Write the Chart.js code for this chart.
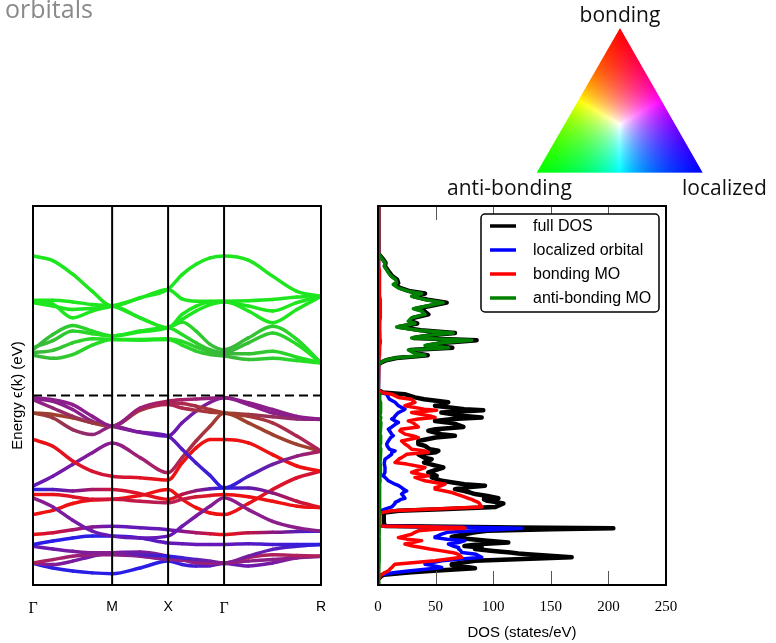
<!DOCTYPE html>
<html>
<head>
<meta charset="utf-8">
<script src="https://cdn.jsdelivr.net/npm/chart.js@4.4.0/dist/chart.umd.min.js"></script>
<style>
  html, body { margin: 0; padding: 0; background: #fff; }
  #page { position: relative; width: 776px; height: 643px; overflow: hidden; }
  #page canvas { position: absolute; left: 0; top: 0; }
  .lbl { position: absolute; font-family: "Open Sans", sans-serif; font-size: 21px; line-height: 1; color: #111; white-space: nowrap; }
</style>
</head>
<body>
<div id="page">
  <canvas id="triangle" width="776" height="200"></canvas>
  <div class="lbl" style="left:5px; top:-4px; font-size:25px; color:#8a8a8a;">orbitals</div>
  <div class="lbl" style="left:620px; top:4px; transform:translateX(-50%);">bonding</div>
  <div class="lbl" style="left:447px; top:177px;">anti-bonding</div>
  <div class="lbl" style="left:682px; top:177px;">localized</div>
  <canvas id="bands" width="776" height="643"></canvas>
  <canvas id="dos" width="776" height="643"></canvas>
</div>
<script>
// ---------- k-path: Γ - M - X - Γ - R ----------
const kNodes = [0, 0.707, 1.207, 1.707, 2.573];
const kLabels = ['Γ', 'M', 'X', 'Γ', 'R'];
const kPath = [0, 0.177, 0.354, 0.530, 0.707, 0.957, 1.207, 1.332, 1.457, 1.582, 1.707, 1.924, 2.140, 2.357, 2.573];

// conduction bands (eV, Fermi level at 0)
const conductionBands = [
  [3.68, 3.56, 3.20, 2.75, 2.36, 2.58, 2.81, 3.19, 3.46, 3.63, 3.68, 3.57, 3.15, 2.75, 2.62],
  [2.49, 2.41, 2.05, 2.23, 2.36, 2.57, 2.80, 2.55, 2.49, 2.49, 2.49, 2.50, 2.53, 2.60, 2.62],
  [2.45, 2.36, 2.27, 2.30, 2.36, 2.05, 1.79, 2.14, 2.36, 2.47, 2.49, 2.23, 1.92, 2.27, 2.62],
  [1.21, 1.61, 1.85, 1.70, 1.57, 1.68, 1.79, 2.01, 2.23, 2.40, 2.47, 2.36, 2.23, 2.45, 2.62],
  [1.26, 1.45, 1.70, 1.63, 1.57, 1.70, 1.79, 1.61, 1.39, 1.21, 1.13, 1.39, 1.65, 1.35, 0.86],
  [1.13, 1.19, 1.39, 1.50, 1.48, 1.48, 1.50, 1.43, 1.28, 1.15, 1.10, 1.10, 1.17, 1.01, 0.86],
  [1.06, 0.98, 1.08, 1.33, 1.48, 1.46, 1.48, 1.33, 1.17, 1.08, 1.04, 0.95, 0.98, 0.92, 0.86],
  [2.51, 2.51, 2.47, 2.40, 2.36, 2.05, 1.79, 1.94, 1.70, 1.35, 1.21, 1.52, 1.83, 1.48, 0.86]
];

// valence bands
const valenceBands = [
  [-0.06, -0.11, -0.24, -0.55, -0.81, -0.33, -0.15, -0.11, -0.09, -0.07, -0.06, -0.19, -0.37, -0.55, -0.63],
  [-0.11, -0.33, -0.55, -0.72, -0.81, -0.37, -0.19, -0.21, -0.28, -0.37, -0.46, -0.55, -0.72, -1.07, -1.47],
  [-0.46, -0.59, -0.90, -1.03, -0.81, -0.97, -1.07, -1.42, -1.78, -2.11, -2.44, -2.13, -1.82, -1.60, -1.47],
  [-0.46, -0.50, -0.59, -0.72, -0.81, -0.39, -0.24, -0.33, -0.39, -0.44, -0.46, -0.50, -0.56, -0.62, -0.63],
  [-0.09, -0.15, -0.37, -0.68, -0.81, -0.97, -1.07, -0.72, -0.41, -0.18, -0.06, -0.24, -0.46, -0.59, -0.63],
  [-1.16, -1.34, -1.73, -2.00, -2.13, -2.17, -2.23, -1.78, -1.38, -1.16, -1.16, -1.25, -1.56, -1.86, -2.00],
  [-2.39, -2.13, -1.82, -1.51, -1.25, -1.64, -2.04, -1.64, -1.20, -0.81, -0.46, -0.72, -1.03, -1.29, -1.47],
  [-2.48, -2.48, -2.52, -2.48, -2.48, -2.59, -2.74, -2.61, -2.51, -2.46, -2.44, -2.44, -2.57, -2.79, -2.96],
  [-2.61, -2.61, -2.67, -2.74, -2.74, -2.79, -2.83, -2.74, -2.67, -2.64, -2.61, -2.67, -2.79, -2.92, -2.96],
  [-2.70, -2.94, -3.29, -3.58, -3.71, -3.76, -3.71, -3.45, -3.18, -2.92, -2.70, -3.01, -3.32, -3.49, -3.58],
  [-3.14, -3.03, -2.85, -2.76, -2.74, -2.64, -2.48, -2.74, -2.96, -3.10, -3.14, -2.85, -2.48, -2.17, -2.00],
  [-3.67, -3.62, -3.54, -3.47, -3.45, -3.49, -3.54, -3.58, -3.62, -3.65, -3.67, -3.62, -3.61, -3.59, -3.58],
  [-3.93, -3.84, -3.76, -3.71, -3.71, -3.76, -3.89, -3.91, -3.93, -3.93, -3.93, -3.91, -3.93, -3.93, -3.93],
  [-3.98, -4.05, -4.11, -4.15, -4.15, -4.20, -4.24, -4.28, -4.33, -4.37, -4.42, -4.24, -4.06, -3.98, -3.93],
  [-4.42, -4.33, -4.24, -4.20, -4.20, -4.24, -4.33, -4.35, -4.37, -4.40, -4.42, -4.28, -4.20, -4.22, -4.24],
  [-4.42, -4.46, -4.37, -4.24, -4.15, -4.13, -4.24, -4.33, -4.42, -4.43, -4.42, -4.37, -4.33, -4.28, -4.24],
  [-4.43, -4.55, -4.63, -4.68, -4.70, -4.55, -4.37, -4.46, -4.50, -4.49, -4.43, -4.50, -4.42, -4.28, -4.24]
];

// band character colours at Γ, M, X, Γ, R
const G = '#1ee61e', G2 = '#3cb43c';
const R = '#ee1111', RD = '#d0143a', CR = '#b0205a', P = '#8c1e8c', VI = '#6418b8', B = '#2a1ee6', BR = '#a0402c';
const conductionColors = [
  [G, G, G, G, G], [G, G, G, G, G], [G, G, G, G, G], [G2, G, G, G, G],
  [G2, G, G, G2, G], [G2, G, G, G2, G], [G2, G, G, G2, G], [G, G, G, G2, G]
];
const valenceColors = [
  [P, P, CR, P, P], [P, BR, CR, BR, CR], [BR, P, VI, B, CR], [BR, BR, CR, BR, P],
  [P, P, VI, P, P], [R, RD, R, R, R], [VI, P, CR, BR, BR], [B, RD, R, B, R],
  [R, RD, CR, R, R], [P, VI, VI, P, P], [R, R, R, R, RD], [R, VI, VI, R, B],
  [B, B, VI, VI, B], [VI, P, B, P, B], [CR, P, P, CR, CR], [P, VI, P, P, P],
  [B, B, B, VI, P]
];

// ---------- density of states ----------
const dosEnergy = [
  5.0, 3.75, 3.68, 3.59, 3.50, 3.41, 3.32, 3.24, 3.15, 3.06, 2.97, 2.93, 2.84, 2.75, 2.69, 2.62, 2.53, 2.45, 2.37, 2.29, 2.23,
  2.14, 2.05, 1.96, 1.90, 1.81, 1.72, 1.65, 1.58, 1.52, 1.46, 1.39, 1.32, 1.26, 1.20, 1.11, 1.06, 0.99, 0.93, 0.86, 0.80, 0.15,
  0.08, 0.035, -0.05, -0.10, -0.18, -0.27, -0.36, -0.39, -0.45, -0.54, -0.58, -0.62, -0.67, -0.71, -0.76, -0.83, -0.89, -0.93,
  -1.02, -1.06, -1.11, -1.20, -1.28, -1.33, -1.42, -1.46, -1.50, -1.55, -1.64, -1.68, -1.77, -1.81, -1.90, -2.03, -2.12, -2.16,
  -2.25, -2.34, -2.38, -2.43, -2.47, -2.52, -2.56, -2.60, -2.65, -2.71, -2.74, -2.78, -2.82, -2.85, -2.94, -3.00, -3.04, -3.09,
  -3.13, -3.22, -3.35, -3.44, -3.48, -3.50, -3.53, -3.57, -3.61, -3.66, -3.73, -3.75, -3.79, -3.83, -3.88, -3.92, -3.97, -4.01,
  -4.05, -4.10, -4.14, -4.17, -4.19, -4.27, -4.36, -4.45, -4.47, -4.54, -4.56, -4.63, -4.67, -4.73, -4.76, -4.85, -5.0
];
const dosTotal = [
  0, 0.3, 2, 4.5, 6.5, 6, 8.2, 10, 12.3, 16.5, 17.5, 14.5, 19, 28, 40.8, 31, 43, 59.6, 46, 33, 40,
  43.7, 31, 28, 34, 18, 37, 66.8, 43, 31, 85.6, 58, 43, 64.5, 28, 34, 43.1, 16, 7, 2, 0, 0,
  4, 23, 32, 40, 61, 49.5, 75, 91.4, 55, 75, 90, 65, 49.5, 60, 68, 74.1, 50, 43.7,
  55, 66.8, 50, 35, 35, 40.8, 45, 52.4, 50, 35, 40, 46.6, 40, 45, 56.7, 43.7, 50.9, 46.6,
  55.3, 75, 92.9, 75, 66.8, 75, 80, 84.2, 95, 104.5, 92, 95, 104, 108.8, 102, 55, 18, 6,
  5, 5, 5, 6, 120, 204.3, 150, 95, 84.2, 75, 64, 65, 81.3, 95, 113.1, 90, 75, 90,
  84.2, 100, 115, 121.8, 130, 168.1, 84.2, 64, 64, 80, 84.2, 45, 26.3, 5, 3, 0, 0
];
const dosLocalized = [
  0, 0, 0, 0.2, 0.2, 0.2, 0.3, 0.3, 0.3, 0.4, 0.4, 0.4, 0.5, 0.5, 0.5, 0.5, 0.5, 0.5, 0.5, 0.6, 0.6,
  0.6, 0.6, 0.6, 0.6, 0.8, 0.8, 1, 1, 1.5, 1.5, 1.2, 0.8, 0.6, 0.5, 0.5, 0.5, 0.3, 0.2, 0, 0, 0,
  2, 7.5, 9, 10, 14.8, 17.7, 23.4, 22, 17.7, 14.8, 14, 11.9, 14.8, 17.7, 15, 12, 9, 10,
  11.9, 13.3, 11, 9, 7.5, 8, 10, 14.8, 12, 11.9, 8, 6.1, 5.5, 5.5, 6.1, 6, 4.5, 6.1,
  9, 14.8, 18, 20.5, 22, 24.9, 22, 20.5, 22, 23.4, 20, 17.7, 15, 14.8, 11.9, 6.1, 3, 1,
  0.5, 0.5, 0.5, 1, 90, 124.7, 110, 84.2, 60, 55.3, 50, 49.5, 60, 75.5, 70, 61.1, 65, 69.7,
  70, 72, 72.6, 80, 85, 90, 55.3, 40.8, 45, 55.3, 50, 26.3, 15, 3, 2, 0, 0
];
const dosBonding = [
  0, 0, 0.5, 0.8, 0.8, 0.8, 1, 1, 1, 1.2, 1.3, 1.2, 1.5, 1.5, 1.5, 1.5, 2, 2, 2, 2, 2,
  2, 2, 1.5, 1.5, 1.5, 1.5, 1.5, 1.5, 1.5, 2, 2, 1.5, 1.5, 1.2, 1.2, 1.2, 0.8, 0.5, 0.3, 0, 0,
  3, 11.9, 17.7, 29, 32.1, 23.4, 40, 50.9, 29.2, 45, 49.5, 35, 26.3, 30, 32.1, 35, 20, 19,
  23.4, 30, 35, 20.5, 23.4, 26, 29.2, 40, 43.7, 25, 20.5, 18, 14.8, 25, 40.8, 29.2, 43.7, 32.1,
  40.8, 58.2, 55, 50, 49.5, 58, 64, 68, 72.6, 78, 81.3, 84, 87.1, 88, 90, 43.7, 11.9, 3.2,
  1, 1, 1, 2, 74, 75.5, 50, 35, 32, 29.2, 20, 17.7, 25, 37.9, 30, 23.4, 30, 37.9,
  45, 55.3, 64, 68, 69.7, 72.6, 49.5, 14.8, 14, 11.9, 11, 9, 6, 3, 2, 0, 0
];
const dosAntiBonding = [
  0, 0.3, 1.7, 3.8, 6.1, 5.5, 7.5, 9, 11.3, 15.3, 16.2, 13.3, 17.6, 26.3, 37.9, 29.2, 40.8, 56.7, 43.7, 30.7, 37.9,
  40.8, 29.2, 26.3, 32.1, 16.2, 35, 65.4, 40.8, 29.2, 81.3, 55.3, 40.8, 61.1, 26.3, 32.1, 40.8, 14.8, 6.1, 1.7, 0, 0,
  0.3, 1, 1.5, 1.5, 2, 2.5, 1.8, 2.6, 2, 1.6, 2.4, 2.2, 1.7, 2.5, 2, 1.8, 2.6, 2.1,
  1.7, 2.3, 2.5, 1.9, 2.2, 1.6, 2.4, 2, 1.8, 2.3, 1.9, 2.2, 1.7, 2, 2.3, 1.8, 2, 1.5,
  1.8, 1.3, 1.6, 1.4, 1.7, 1.2, 1.5, 1.6, 1.3, 1.5, 1.4, 1.6, 1.3, 1.5, 1.2, 1.4, 1, 1,
  0.8, 0.8, 0.8, 0.8, 1, 1.2, 1, 0.9, 1.1, 1, 0.8, 1, 1.1, 0.9, 1, 1.2, 1, 0.9,
  1, 1.1, 1, 0.9, 1, 1, 1, 0.8, 0.8, 0.8, 0.8, 0.5, 0.5, 0.3, 0.2, 0, 0
];
const dosTicks = [0, 50, 100, 150, 200, 250];

// ---------- helpers ----------
function hexRgb(h) {
  const n = parseInt(h.slice(1), 16);
  return [n >> 16, (n >> 8) & 255, n & 255];
}
function colorAt(nodeColors, k) {
  let j = 0;
  while (j < kNodes.length - 2 && k > kNodes[j + 1]) j++;
  const t = Math.min(1, Math.max(0, (k - kNodes[j]) / (kNodes[j + 1] - kNodes[j])));
  const a = hexRgb(nodeColors[j]), b = hexRgb(nodeColors[j + 1]);
  const c = a.map((v, i) => Math.round(v + (b[i] - v) * t));
  return `rgb(${c[0]},${c[1]},${c[2]})`;
}
function bandDataset(values, nodeColors) {
  return {
    data: values.map((e, i) => ({ x: kPath[i], y: e })),
    showLine: true,
    pointRadius: 0,
    borderWidth: 3.5,
    borderCapStyle: 'round',
    borderJoinStyle: 'round',
    cubicInterpolationMode: 'monotone',
    borderColor: nodeColors[0],
    segment: {
      borderColor: ctx => {
        const g = ctx.chart.ctx.createLinearGradient(ctx.p0.x, ctx.p0.y, ctx.p1.x, ctx.p1.y);
        g.addColorStop(0, colorAt(nodeColors, kPath[ctx.p0DataIndex]));
        g.addColorStop(1, colorAt(nodeColors, kPath[ctx.p1DataIndex]));
        return g;
      }
    }
  };
}

// frame plus the high-symmetry verticals, drawn over the bands
const bandFrame = {
  id: 'bandFrame',
  afterDatasetsDraw(chart) {
    const { ctx, chartArea: a, scales: { x } } = chart;
    ctx.save();
    ctx.strokeStyle = '#000';
    ctx.lineWidth = 2;
    kNodes.slice(1, -1).forEach(k => {
      const px = x.getPixelForValue(k);
      ctx.beginPath();
      ctx.moveTo(px, a.top);
      ctx.lineTo(px, a.bottom);
      ctx.stroke();
    });
    ctx.strokeRect(a.left, a.top, a.right - a.left, a.bottom - a.top);
    ctx.restore();
  }
};

const bandDatasets = [{
  // Fermi level
  data: [{ x: 0, y: 0 }, { x: kNodes[4], y: 0 }],
  showLine: true, pointRadius: 0, borderWidth: 2.2,
  borderColor: '#000', borderDash: [9, 5]
}];
valenceBands.forEach((b, i) => bandDatasets.push(bandDataset(b, valenceColors[i])));
conductionBands.forEach((b, i) => bandDatasets.push(bandDataset(b, conductionColors[i])));

new Chart(document.getElementById('bands'), {
  type: 'scatter',
  data: { datasets: bandDatasets },
  options: {
    responsive: false,
    animation: false,
    events: [],
    layout: { padding: { top: 206, right: 455, left: 0, bottom: 0 } },
    plugins: { legend: { display: false }, tooltip: { enabled: false } },
    scales: {
      x: {
        type: 'linear', min: 0, max: kNodes[4],
        afterBuildTicks: s => { s.ticks = kNodes.map(v => ({ value: v })); },
        afterFit: s => { s.height = 58; },
        ticks: {
          callback: (v, i) => kLabels[i],
          color: '#000',
          padding: 14,
          maxRotation: 0,
          autoSkip: false,
          font: ctx => kLabels[ctx.index] === 'Γ'
            ? { family: 'Liberation Serif', size: 16 }
            : { family: 'Liberation Sans', size: 14 }
        },
        grid: { display: false, drawTicks: false },
        border: { display: false }
      },
      y: {
        min: -5, max: 5,
        afterFit: s => { s.width = 33; },
        ticks: { display: false },
        grid: { display: false, drawTicks: false },
        border: { display: false },
        title: {
          display: true, text: 'Energy ϵ(k) (eV)', color: '#000',
          font: { family: 'Liberation Sans', size: 15 },
          padding: { top: 9, bottom: 0 }
        }
      }
    }
  },
  plugins: [bandFrame]
});

// frame, inner tick marks and the legend box of the DOS panel
const dosDecor = {
  id: 'dosDecor',
  afterDraw(chart) {
    const { ctx, chartArea: a, scales: { x } } = chart;
    ctx.save();
    ctx.strokeStyle = '#555';
    ctx.lineWidth = 1;
    dosTicks.forEach(v => {
      const px = Math.round(x.getPixelForValue(v)) + 0.5;
      ctx.beginPath();
      ctx.moveTo(px, a.bottom); ctx.lineTo(px, a.bottom - 14);
      ctx.moveTo(px, a.top); ctx.lineTo(px, a.top + 14);
      ctx.stroke();
    });
    ctx.strokeStyle = '#000';
    ctx.lineWidth = 2;
    ctx.strokeRect(a.left, a.top, a.right - a.left, a.bottom - a.top);

    const bx = a.right - 185, by = a.top + 8, bw = 178, bh = 98;
    ctx.beginPath();
    ctx.roundRect(bx, by, bw, bh, 4);
    ctx.fillStyle = '#fff';
    ctx.fill();
    ctx.lineWidth = 1.5;
    ctx.stroke();
    ctx.font = '16px "Liberation Sans"';
    ctx.textBaseline = 'middle';
    chart.data.datasets.forEach((ds, i) => {
      const cy = by + 12 + i * 24;
      ctx.strokeStyle = ds.borderColor;
      ctx.lineWidth = 3.5;
      ctx.beginPath();
      ctx.moveTo(bx + 9, cy); ctx.lineTo(bx + 35, cy);
      ctx.stroke();
      ctx.fillStyle = '#000';
      ctx.fillText(ds.label, bx + 52, cy + 1);
    });
    ctx.restore();
  }
};

function dosDataset(label, values, color, width, order) {
  return {
    label,
    data: dosEnergy.map((e, i) => ({ x: values[i], y: e })),
    showLine: true,
    pointRadius: 0,
    borderColor: color,
    borderWidth: width,
    borderJoinStyle: 'round',
    order
  };
}

new Chart(document.getElementById('dos'), {
  type: 'scatter',
  data: {
    datasets: [
      dosDataset('full DOS', dosTotal, '#000000', 4.5, 4),
      dosDataset('localized orbital', dosLocalized, '#0000ff', 3.5, 3),
      dosDataset('bonding MO', dosBonding, '#ff0000', 3.5, 2),
      dosDataset('anti-bonding MO', dosAntiBonding, '#008000', 3.5, 1)
    ]
  },
  options: {
    responsive: false,
    animation: false,
    events: [],
    layout: { padding: { top: 206, right: 110, left: 378, bottom: 0 } },
    plugins: { legend: { display: false }, tooltip: { enabled: false } },
    scales: {
      x: {
        type: 'linear', min: 0, max: 250,
        afterBuildTicks: s => { s.ticks = dosTicks.map(v => ({ value: v })); },
        afterFit: s => { s.height = 58; },
        ticks: { color: '#000', padding: 13, maxRotation: 0, font: { family: 'Liberation Serif', size: 15 } },
        grid: { display: false, drawTicks: false },
        border: { display: false },
        title: {
          display: true, text: 'DOS (states/eV)', color: '#000',
          font: { family: 'Liberation Sans', size: 15 },
          padding: { top: 0, bottom: 1 }
        }
      },
      y: { display: false, min: -5, max: 5 }
    }
  },
  plugins: [dosDecor]
});

// ---------- colour key: bonding (red) / anti-bonding (green) / localized (blue) ----------
(function drawTriangle() {
  const cv = document.getElementById('triangle');
  const c = cv.getContext('2d');
  const T = [620, 28], L = [536.7, 172.7], Rt = [702.7, 172.7];
  const det = (L[1] - Rt[1]) * (T[0] - Rt[0]) + (Rt[0] - L[0]) * (T[1] - Rt[1]);
  const img = c.createImageData(cv.width, cv.height);
  const sub = [1 / 6, 0.5, 5 / 6];
  for (let y = 20; y < 180; y++) {
    for (let x = 530; x < 710; x++) {
      let r = 0, g = 0, b = 0, n = 0;
      for (const sy of sub) for (const sx of sub) {
        const px = x + sx, py = y + sy;
        const wT = ((L[1] - Rt[1]) * (px - Rt[0]) + (Rt[0] - L[0]) * (py - Rt[1])) / det;
        const wL = ((Rt[1] - T[1]) * (px - Rt[0]) + (T[0] - Rt[0]) * (py - Rt[1])) / det;
        const wR = 1 - wT - wL;
        if (wT < 0 || wL < 0 || wR < 0) continue;
        const m = Math.max(wT, wL, wR);
        r += wT / m; g += wL / m; b += wR / m; n++;
      }
      if (!n) continue;
      const i = (y * cv.width + x) * 4;
      img.data[i] = r / n * 255;
      img.data[i + 1] = g / n * 255;
      img.data[i + 2] = b / n * 255;
      img.data[i + 3] = n / 9 * 255;
    }
  }
  c.putImageData(img, 0, 0);
})();
</script>
</body>
</html>
